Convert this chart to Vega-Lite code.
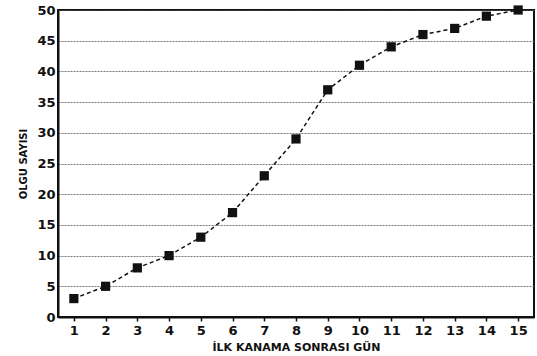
{
  "$schema": "https://vega.github.io/schema/vega-lite/v6.json",
  "autosize": {"type": "none"},
  "padding": {"left": 58, "top": 10, "right": 3, "bottom": 39},
  "width": 476,
  "height": 307,
  "background": "white",
  "config": {
    "view": {"stroke": "#111", "strokeWidth": 2},
    "font": "DejaVu Sans"
  },
  "data": {"values": [
    {"gun": 1, "olgu": 3},
    {"gun": 2, "olgu": 5},
    {"gun": 3, "olgu": 8},
    {"gun": 4, "olgu": 10},
    {"gun": 5, "olgu": 13},
    {"gun": 6, "olgu": 17},
    {"gun": 7, "olgu": 23},
    {"gun": 8, "olgu": 29},
    {"gun": 9, "olgu": 37},
    {"gun": 10, "olgu": 41},
    {"gun": 11, "olgu": 44},
    {"gun": 12, "olgu": 46},
    {"gun": 13, "olgu": 47},
    {"gun": 14, "olgu": 49},
    {"gun": 15, "olgu": 50}
  ]},
  "encoding": {
    "x": {"field": "gun", "type": "quantitative",
      "scale": {"domain": [0.5, 15.5], "nice": false, "zero": false},
      "axis": {"values": [1,2,3,4,5,6,7,8,9,10,11,12,13,14,15], "grid": false,
        "title": "İLK KANAMA SONRASI GÜN", "titleFont": "DejaVu Sans", "titleFontSize": 11, "titleFontWeight": "bold", "titleColor": "#111", "titlePadding": 4,
        "labelFontSize": 13, "labelFontWeight": "bold", "labelColor": "#111", "labelPadding": 3,
        "tickColor": "#111", "tickSize": 4, "tickWidth": 1.5, "domainColor": "#111", "domainWidth": 2}},
    "y": {"field": "olgu", "type": "quantitative",
      "scale": {"domain": [0, 50], "nice": false},
      "axis": {"values": [0,5,10,15,20,25,30,35,40,45,50], "grid": true, "gridColor": "#555", "gridDash": [2,1], "gridWidth": 0.8,
        "title": "OLGU SAYISI", "titleFont": "DejaVu Sans", "titleFontSize": 10, "titleFontWeight": "bold", "titleColor": "#111", "titlePadding": 8,
        "labelFontSize": 13, "labelFontWeight": "bold", "labelColor": "#111", "labelPadding": 3,
        "ticks": false, "domainColor": "#111", "domainWidth": 2}}
  },
  "layer": [
    {"mark": {"type": "line", "color": "#111", "strokeDash": [4, 3], "strokeWidth": 1.5, "clip": false}},
    {"mark": {"type": "square", "filled": true, "color": "#111", "opacity": 1, "size": 85, "clip": false}}
  ]
}
